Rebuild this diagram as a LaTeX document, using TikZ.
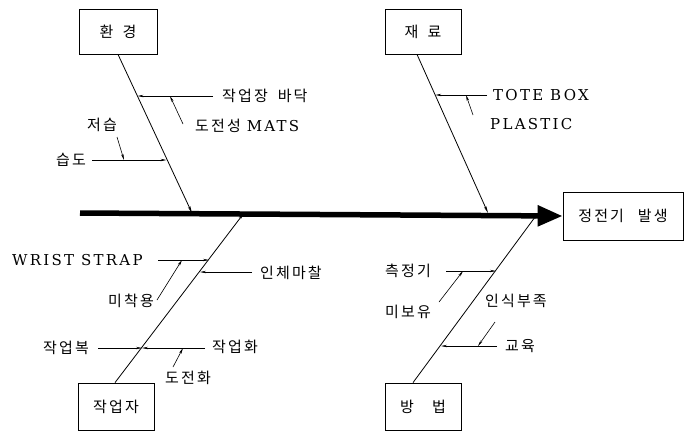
\documentclass[tikz,border=0pt]{standalone}
\usepackage{fontspec}
\setmainfont{DejaVu Serif}
\newfontfamily\kr[LetterSpace=14]{Noto Sans CJK KR}
\newfontfamily\lat[LetterSpace=15]{DejaVu Serif}
\usetikzlibrary{arrows.meta,calc}
\tikzset{
  causebox/.style={draw, line width=0.8pt, inner sep=0pt, font=\kr\fontsize{15}{17}\selectfont},
  lbl/.style={inner sep=0pt, anchor=west, font=\kr\fontsize{15}{17}\selectfont},
  latlbl/.style={inner sep=0pt, anchor=west, font=\lat\fontsize{15}{17}\selectfont},
  bone/.style={line width=0.8pt, -{Stealth[length=7pt,width=2.6pt]}},
  twig/.style={line width=0.6pt, -{Stealth[length=6pt,width=2.4pt]}},
  spine/.style={line width=5.5pt, -{Triangle[length=25pt,width=20pt]}}
}
\begin{document}
\begin{tikzpicture}[x=1pt,y=-1pt]
\useasboundingbox (0,0) rectangle (684,432);
% boxes
\node[causebox, minimum width=78pt, minimum height=45pt] (env) at (118,31.5) {환\hspace{9pt}경};
\node[causebox, minimum width=76pt, minimum height=45pt] (mat) at (423,31.5) {재\hspace{9pt}료};
\node[causebox, minimum width=76pt, minimum height=47pt] (wrk) at (116,406.5) {작업자};
\node[causebox, minimum width=76pt, minimum height=47pt] (mth) at (423,406.5) {방\hspace{18pt}법};
\node[causebox, minimum width=120pt, minimum height=48pt] (eff) at (623,216) {정전기\hspace{14pt}발생};
% spine
\coordinate (sp0) at (80,213);
\draw[spine] (sp0) -- (eff.west);
% bone end points
\coordinate (s1) at (192,213);
\coordinate (s2) at (488,213);
\coordinate (s3) at (244,213);
\coordinate (s4) at (538,213);
\coordinate (b1) at (env.south);
\coordinate (b2) at ($(mat.south)+(-6,0)$);
\coordinate (b3) at ($(wrk.north)+(-1,0)$);
\coordinate (b4) at ($(mth.north)+(-10,0)$);
\draw[bone] (b1) -- (s1);
\draw[bone] (b2) -- (s2);
\draw[bone] (b3) -- (s3);
\draw[bone] (b4) -- (s4);
% points on bones
\coordinate (e1) at (137.5,96);
\coordinate (e2) at (166.5,160);
\coordinate (m1) at (435.3,95);
\coordinate (w1) at (209,260);
\coordinate (w2) at (200,272);
\coordinate (w3) at (142,348);
\coordinate (t1) at (496,271);
\coordinate (t2) at (441,346);
% labels
\node[lbl] (l1) at (222,96) {작업장\hspace{10pt}바닥};
\node[lbl] (l2) at (195,126) {도전성\hspace{6pt}{\lat\fontsize{15}{17}\selectfont MATS}};
\node[lbl] (l3) at (87,125) {저습};
\node[lbl, anchor=east] (l4) at (86,160) {습도};
\node[latlbl] (l5) at (493,95) {TOTE BOX};
\node[latlbl] (l6) at (490,124) {PLASTIC};
\node[latlbl] (l7) at (12,260) {WRIST STRAP};
\node[lbl] (l8) at (108,301) {미착용};
\node[lbl] (l9) at (260,273) {인체마찰};
\node[lbl] (l10) at (43,348) {작업복};
\node[lbl] (l11) at (212,347) {작업화};
\node[lbl] (l12) at (165,378) {도전화};
\node[lbl] (l13) at (385,271) {측정기};
\node[lbl] (l14) at (385,312) {미보유};
\node[lbl] (l15) at (485,301) {인식부족};
\node[lbl] (l16) at (505,346) {교육};
% horizontal twigs
\coordinate (h1) at (213,96);
\coordinate (h2) at (92,160);
\coordinate (h3) at (487,95);
\coordinate (h4) at (158,260);
\coordinate (h5) at (252,272);
\coordinate (h6) at (98,348);
\coordinate (h7) at (205,348);
\coordinate (h8) at (446,271);
\coordinate (h9) at (497,346);
\draw[twig] (h1) -- (e1);
\draw[twig] (h2) -- (e2);
\draw[twig] (h3) -- (m1);
\draw[twig] (h4) -- (w1);
\draw[twig] (h5) -- (w2);
\draw[twig] (h6) -- (w3);
\draw[twig] (h7) -- (w3);
\draw[twig] (h8) -- (t1);
\draw[twig] (h9) -- (t2);
% diagonal sub-twigs
\coordinate (d1a) at (183,124); \coordinate (d1b) at (170,96);
\coordinate (d2a) at (117,137); \coordinate (d2b) at (124,160);
\coordinate (d3a) at (473,115); \coordinate (d3b) at (466,95);
\coordinate (d4a) at (157,300); \coordinate (d4b) at (182,260);
\coordinate (d5a) at (173,367); \coordinate (d5b) at (183,348);
\coordinate (d6a) at (439,302); \coordinate (d6b) at (463,271);
\coordinate (d7a) at (495,322); \coordinate (d7b) at (478,346);
\foreach \a/\b in {d1a/d1b,d2a/d2b,d3a/d3b,d4a/d4b,d5a/d5b,d6a/d6b,d7a/d7b}
  \draw[twig] (\a) -- (\b);
\end{tikzpicture}
\end{document}
